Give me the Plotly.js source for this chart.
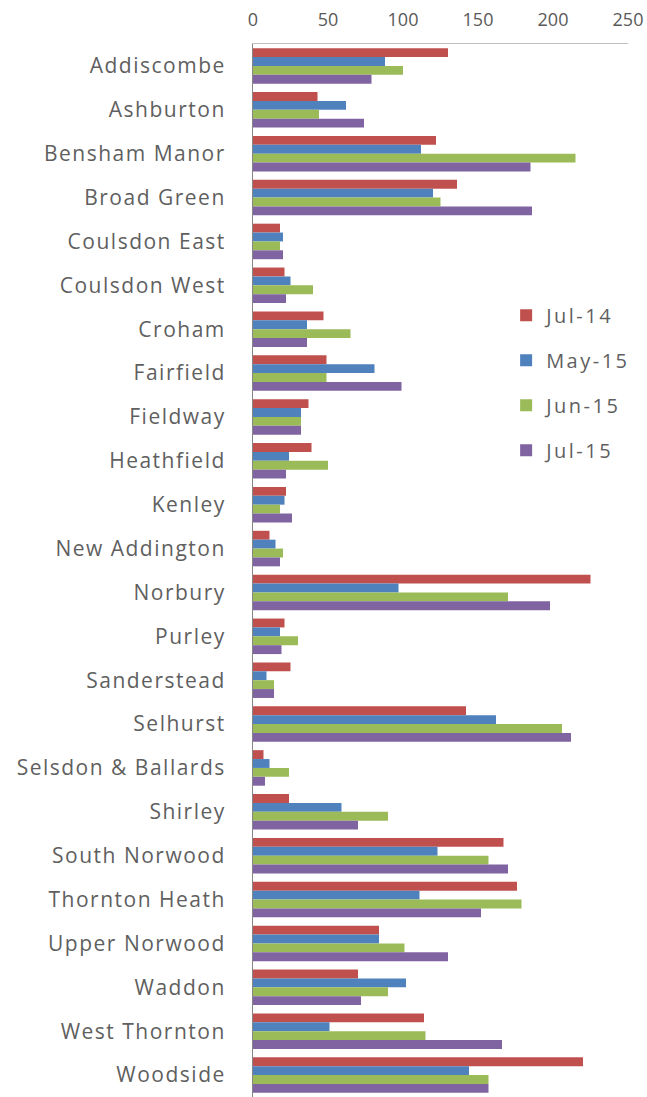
<!DOCTYPE html>
<html><head><meta charset="utf-8">
<script src="https://cdn.plot.ly/plotly-3.0.1.min.js"></script>
<style>
html,body{margin:0;padding:0;background:#fff;}
#chart{width:647px;height:1097px;}
.ytick text{letter-spacing:1.5px;}
.legendtext{letter-spacing:2.5px;}
</style>
</head><body><div id="chart"></div>
<script>
var wards = ["Addiscombe","Ashburton","Bensham Manor","Broad Green","Coulsdon East","Coulsdon West","Croham","Fairfield","Fieldway","Heathfield","Kenley","New Addington","Norbury","Purley","Sanderstead","Selhurst","Selsdon & Ballards","Shirley","South Norwood","Thornton Heath","Upper Norwood","Waddon","West Thornton","Woodside"];
var jul14 = [130,43,122,136,18,21,47,49,37,39,22,11,225,21,25,142,7,24,167,176,84,70,114,220];
var may15 = [88,62,112,120,20,25,36,81,32,24,21,15,97,18,9,162,11,59,123,111,84,102,51,144];
var jun15 = [100,44,215,125,18,40,65,49,32,50,18,20,170,30,14,206,24,90,157,179,101,90,115,157];
var jul15 = [79,74,185,186,20,22,36,99,32,22,26,18,198,19,14,212,8,70,170,152,130,72,166,157];
var seriesNames = ["Jul-14","May-15","Jun-15","Jul-15"];
var seriesColors = ["#C0504D","#4F81BD","#9BBB59","#8064A2"];
var seriesData = [jul14, may15, jun15, jul15];

var traces = seriesData.map(function(vals, i){
  return {type:"bar", orientation:"h", name:seriesNames[i], x:vals, y:wards,
    marker:{color:seriesColors[i]}, legendgroup:"g"+i, hoverinfo:"x+y+name"};
});
var layout = {
  width:647, height:1097,
  margin:{l:253, r:19, t:44, b:0},
  paper_bgcolor:"#fff", plot_bgcolor:"#fff",
  barmode:"group", bargap:0.19, bargroupgap:0,
  font:{family:"'Open Sans', Lato, sans-serif", color:"#595959"},
  xaxis:{side:"top", range:[0,250], dtick:50, tick0:0, showgrid:false, zeroline:false,
    showline:true, linecolor:"#BFBFBF", linewidth:1, ticks:"", ticklen:0, ticklabelstandoff:10,
    tickfont:{size:18, color:"#595959"}, fixedrange:true},
  yaxis:{autorange:"reversed", showgrid:false, zeroline:false, showline:true,
    linecolor:"#868686", linewidth:1, ticks:"", ticklabelstandoff:22,
    tickfont:{size:21, color:"#5F5F5F"}, fixedrange:true},
  legend:{x:0.675, y:0.761, xanchor:"left", yanchor:"top", traceorder:"grouped",
    tracegroupgap:16, font:{size:20, color:"#5F5F5F"}, bgcolor:"rgba(0,0,0,0)"},
  showlegend:true
};
Plotly.newPlot("chart", traces, layout, {displayModeBar:false, staticPlot:true});
</script></body></html>
